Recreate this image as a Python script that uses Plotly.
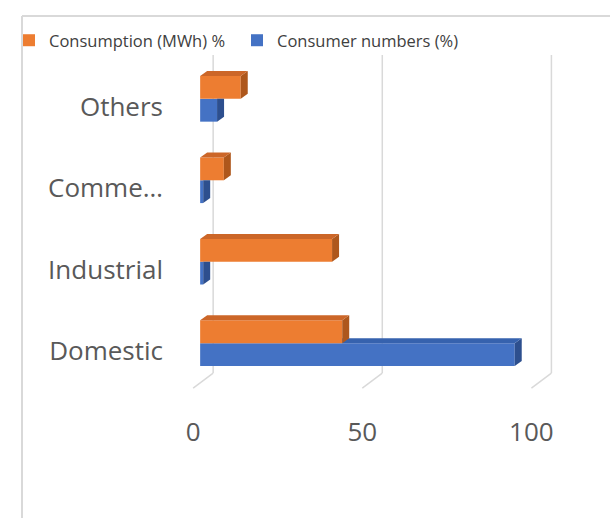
import plotly.graph_objects as go

# ---- data ----
categories = ["Domestic", "Industrial", "Comme…", "Others"]
consumption_pct = [42, 39, 7, 12]        # Consumption (MWh) %
consumer_pct = [93, 0.9, 0.9, 5]         # Consumer numbers (%)
x_ticks = [0, 50, 100]
series_names = ["Consumption (MWh) %", "Consumer numbers (%)"]

# ---- style ----
W_FIG, H_FIG = 610, 518
ML, MR, MT, MB = 190, 31, 50, 126
XR = [-3, 112]
YR = [-0.6, 3.6]
PW = W_FIG - ML - MR
PH = H_FIG - MT - MB
PX_X = PW / (XR[1] - XR[0])
PX_Y = PH / (YR[1] - YR[0])

ORANGE, ORANGE_SIDE, ORANGE_TOP = "#ED7D31", "#AE571C", "#CC6628"
BLUE, BLUE_SIDE, BLUE_TOP = "#4472C4", "#2D4F8E", "#3662AE"
GRID = "#D9D9D9"
TXT = "#595959"
FONT = "Open Sans"

BAR_H = 0.28               # bar thickness in category units
DX = 7 / PX_X               # 3D depth offset (x)
DY = 5 / PX_Y               # 3D depth offset (y)
BACK = 13 / PX_X            # back-wall offset of gridlines
FRONT = -7 / PX_X           # front edge of floor
Y_TOP = (343.1 - 55) / PX_Y
Y_FLOOR_BACK = -(373 - 343.1) / PX_Y
Y_FLOOR_FRONT = -(388 - 343.1) / PX_Y

pos = list(range(len(categories)))

fig = go.Figure()

# front faces (bars)
fig.add_trace(go.Bar(
    y=pos, x=consumer_pct, orientation="h", width=BAR_H, offset=-BAR_H,
    marker=dict(color=BLUE, line=dict(width=0)), name=series_names[1],
    legendrank=2,
))
fig.add_trace(go.Bar(
    y=pos, x=consumption_pct, orientation="h", width=BAR_H, offset=0,
    marker=dict(color=ORANGE, line=dict(width=0)), name=series_names[0],
    legendrank=1,
))


def poly(xs, ys, color):
    fig.add_trace(go.Scatter(
        x=xs + [xs[0]], y=ys + [ys[0]], mode="lines", fill="toself",
        fillcolor=color, line=dict(width=0, color=color),
        hoverinfo="skip", showlegend=False,
    ))


# blue 3D faces (partly hidden behind orange)
for c, bv, ov in zip(pos, consumer_pct, consumption_pct):
    lo = c - BAR_H
    if bv + DX <= ov:
        poly([bv, bv, bv + DX, bv + DX], [lo, c, c, lo + DY], BLUE_SIDE)
    else:
        poly([bv, bv, bv + DX, bv + DX], [lo, c, c + DY, lo + DY], BLUE_SIDE)
        s = max(ov, 0)
        poly([s, bv, bv + DX, s], [c, c, c + DY, c + DY], BLUE_TOP)

# orange 3D faces
for c, ov in zip(pos, consumption_pct):
    hi = c + BAR_H
    poly([ov, ov, ov + DX, ov + DX], [c, hi, hi + DY, c + DY], ORANGE_SIDE)
    poly([0, ov, ov + DX, DX], [hi, hi, hi + DY, hi + DY], ORANGE_TOP)

shapes = []
for v in x_ticks:
    shapes.append(dict(type="line", xref="x", yref="y", layer="below",
                       x0=v + BACK, x1=v + BACK, y0=Y_FLOOR_BACK, y1=Y_TOP,
                       line=dict(color=GRID, width=1.5)))
    shapes.append(dict(type="line", xref="x", yref="y", layer="below",
                       x0=v + FRONT, x1=v + BACK, y0=Y_FLOOR_FRONT, y1=Y_FLOOR_BACK,
                       line=dict(color=GRID, width=1.5)))

# chart frame (cropped chart area border)
fx = (22 - ML) / PW
fy = 1 - (16 - MT) / PH
shapes.append(dict(type="line", xref="paper", yref="paper",
                   x0=fx, x1=fx, y0=fy, y1=-1, line=dict(color=GRID, width=2)))
shapes.append(dict(type="line", xref="paper", yref="paper",
                   x0=fx, x1=2, y0=fy, y1=fy, line=dict(color=GRID, width=2)))

fig.update_layout(
    width=W_FIG, height=H_FIG,
    margin=dict(l=ML, r=MR, t=MT, b=MB, autoexpand=False),
    paper_bgcolor="white", plot_bgcolor="white",
    barmode="overlay",
    font=dict(family=FONT, color=TXT, size=26),
    showlegend=True,
    legend=dict(orientation="h", xref="paper", x=(9 - ML) / PW, xanchor="left",
                yref="paper", y=1 + (MT - 23) / PH, yanchor="top",
                font=dict(size=16.5, color="#404040"),
                bgcolor="rgba(0,0,0,0)",
                entrywidth=183, entrywidthmode="pixels",
                traceorder="normal", itemclick=False),
    xaxis=dict(range=XR, tickvals=x_ticks, showgrid=False, zeroline=False,
               showline=False, ticks="", ticklabelshift=-7,
               ticklabelstandoff=22, fixedrange=True),
    yaxis=dict(range=YR, tickvals=pos, ticktext=categories, showgrid=False,
               zeroline=False, showline=False, ticks="", ticklabelshift=8,
               ticklabelstandoff=26, fixedrange=True),
    shapes=shapes,
)

fig.write_html("out.html")
